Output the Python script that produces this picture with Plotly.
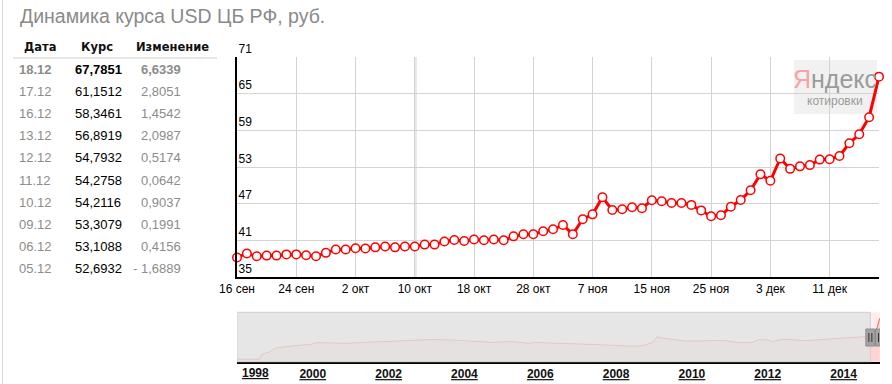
import plotly.graph_objects as go

# ---------------- data ----------------
dates = ["16.09","17.09","18.09","19.09","20.09","23.09","24.09","25.09","26.09","27.09","30.09",
         "01.10","02.10","03.10","04.10","07.10","08.10","09.10","10.10","11.10","14.10","15.10",
         "16.10","17.10","18.10","21.10","22.10","23.10","24.10","25.10","28.10","29.10","30.10","31.10",
         "01.11","06.11","07.11","08.11","11.11","12.11","13.11","14.11","15.11","18.11","19.11","20.11",
         "21.11","22.11","25.11","26.11","27.11","28.11","29.11",
         "02.12","03.12","04.12","05.12","06.12","09.12","10.12","11.12","12.12","13.12","16.12","17.12","18.12"]
rates = [38.20, 38.85, 38.40, 38.50, 38.50, 38.70, 38.70, 38.55, 38.40, 38.95, 39.50,
         39.50, 39.70, 39.65, 39.85, 40.00, 39.85, 40.00, 40.00, 40.30, 40.30, 40.80,
         41.05, 40.90, 41.15, 41.00, 41.15, 41.00, 41.65, 42.00, 42.00, 42.50, 42.80, 43.50,
         42.00, 44.45, 45.25, 48.05, 45.95, 46.10, 46.40, 46.25, 47.55, 47.40, 47.10, 47.10,
         46.80, 45.90, 44.95, 45.10, 46.50, 47.60, 49.20,
         51.80, 50.75, 54.3821, 52.6932, 53.1088, 53.3079, 54.2116, 54.2758, 54.7932, 56.8919,
         58.3461, 61.1512, 67.7851]
year = "2014"
tick_labels = ["16 сен", "24 сен", "2 окт", "10 окт", "18 окт", "28 окт",
               "7 ноя", "15 ноя", "25 ноя", "3 дек", "11 дек"]
y_ticks = [35, 41, 47, 53, 59, 65, 71]

nav_dates = ["1998-01-01","1998-08-10","1998-08-28","1998-11-15","1999-01-05","1999-04-20","1999-07-30",
             "1999-12-20","2000-02-05","2000-08-15","2000-10-25","2001-05-01","2001-12-15","2002-07-20",
             "2003-03-01","2003-10-15","2004-06-25","2004-10-01","2005-04-10","2005-07-20","2005-09-20",
             "2005-11-01","2006-04-01","2006-07-01","2007-01-10","2007-09-25","2008-03-01","2008-07-25",
             "2008-09-25","2008-12-15","2009-01-30","2009-03-25","2009-06-28","2009-11-01","2010-03-10",
             "2010-07-15","2010-11-20","2011-04-01","2011-08-01","2011-10-05","2011-12-28","2012-02-15",
             "2012-05-20","2012-08-25","2013-01-01","2013-07-08","2013-10-15","2014-01-20","2014-04-20",
             "2014-07-30","2014-09-01","2014-10-20","2014-11-20","2014-12-16"]
nav_values = [6.0, 6.2, 12.6, 16.0, 21.0, 23.0, 24.2,
              26.0, 28.1, 27.6, 27.0, 28.3, 29.4, 31.0,
              32.3, 31.3, 28.7, 28.5, 29.6, 28.3, 27.0,
              28.5, 28.1, 27.0, 26.3, 25.4, 24.1, 23.3,
              24.6, 28.0, 36.0, 34.0, 32.5, 30.3, 30.2,
              31.0, 30.7, 28.0, 28.3, 32.1, 31.6, 29.4,
              32.8, 31.6, 30.7, 32.5, 33.4, 34.7, 35.6,
              36.0, 37.4, 42.0, 48.0, 60.4]
nav_years = ["2000", "2002", "2004", "2006", "2008", "2010", "2012", "2014"]
nav_first_year = "1998"

title = "Динамика курса USD ЦБ РФ, руб."
headers = ["Дата", "Курс", "Изменение"]
n_rows = 10

# ---------------- helpers ----------------
W, H = 892, 384
def px(x):
    return x / W
def py(y):
    return 1 - y / H

iso = [f"{year}-{d[3:5]}-{d[0:2]}" for d in dates]
FONT = "Liberation Sans, Arial, sans-serif"
RED = "#ff0000"

fig = go.Figure()

# navigator area
fig.add_trace(go.Scatter(
    x=nav_dates, y=nav_values, xaxis="x2", yaxis="y2", mode="lines",
    line=dict(color="#ff5a5a", width=1), fill="tozeroy", fillcolor="rgba(255,0,0,0.11)",
    hoverinfo="skip", showlegend=False))

# main line
fig.add_trace(go.Scatter(
    x=dates, y=rates, mode="lines+markers",
    line=dict(color=RED, width=3),
    marker=dict(symbol="circle", size=8.5, color="white", line=dict(color=RED, width=1.5)),
    cliponaxis=False, showlegend=False))

shapes = []
# page left border
shapes.append(dict(type="line", xref="paper", yref="paper", x0=px(2.5), x1=px(2.5), y0=0, y1=1,
                   line=dict(color="#d9d9d9", width=1)))
# table header underline
shapes.append(dict(type="line", xref="paper", yref="paper", x0=px(13), x1=px(217), y0=py(58), y1=py(58),
                   line=dict(color="#cccccc", width=1)))
# right border of main plot
shapes.append(dict(type="line", xref="x", yref="y domain", x0=dates[-1], x1=dates[-1], y0=0, y1=1,
                   line=dict(color="#d3d3d3", width=1), layer="below"))
# yandex badge (in main plot domain coords)
shapes.append(dict(type="rect", xref="x domain", yref="y domain", x0=0.8676, x1=0.9969, y0=0.741, y1=0.9864,
                   fillcolor="rgba(236,236,236,0.75)", line=dict(width=0), layer="below"))
# navigator: selected region
shapes.append(dict(type="rect", xref="x2", yref="y2 domain", x0=iso[0], x1=iso[-1], y0=0, y1=1,
                   fillcolor="rgba(255,0,0,0.07)", line=dict(width=0), layer="below"))
# navigator: unselected overlay
shapes.append(dict(type="rect", xref="x2", yref="y2 domain", x0=nav_dates[0], x1=iso[0], y0=0, y1=1,
                   fillcolor="rgba(224,224,224,0.8)", line=dict(color="#d0d0d0", width=1), layer="above"))
# handles
for d in (iso[0], iso[-1]):
    shapes.append(dict(type="rect", xref="x2", yref="paper", xsizemode="pixel", xanchor=d,
                       x0=-4.5, x1=4.5, y0=py(346), y1=py(329),
                       fillcolor="#a3a3a3", line=dict(color="#8c8c8c", width=1), layer="above"))
    for dx in (-1.5, 1.5):
        shapes.append(dict(type="line", xref="x2", yref="paper", xsizemode="pixel", xanchor=d,
                           x0=dx, x1=dx, y0=py(342), y1=py(333),
                           line=dict(color="#333333", width=1), layer="above"))

ann = []
ann.append(dict(text=title, xref="paper", yref="paper", x=px(18), y=py(16), xanchor="left", yanchor="middle",
                showarrow=False, font=dict(family=FONT, size=19.5, color="#8a8a8a")))
# table header
hdr_x = [40, 97, 172]
for h, hx in zip(headers, hdr_x):
    ann.append(dict(text=h, xref="paper", yref="paper", x=px(hx), y=py(47), xanchor="center", yanchor="middle",
                    showarrow=False, font=dict(family="DejaVu Sans, sans-serif", size=11.5, color="#111111", weight="bold")))
# table rows (latest first)
for i in range(n_rows):
    k = len(rates) - 1 - i
    v = rates[k]
    d = v - rates[k - 1]
    rate_s = f"{v:.4f}".replace(".", ",")
    chg_s = (f"- {abs(d):.4f}" if d < 0 else f"{d:.4f}").replace(".", ",")
    yy = py(69 + i * 22.2)
    wt = "bold" if i == 0 else "normal"
    ann.append(dict(text=dates[k], xref="paper", yref="paper", x=px(17), y=yy, xanchor="left", yanchor="middle",
                    showarrow=False, font=dict(family=FONT, size=13, color="#8c8c8c", weight=wt)))
    ann.append(dict(text=rate_s, xref="paper", yref="paper", x=px(72.5), y=yy, xanchor="left", yanchor="middle",
                    showarrow=False, font=dict(family=FONT, size=13, color="#000000", weight=wt)))
    ann.append(dict(text=chg_s, xref="paper", yref="paper", x=px(182.5), y=yy, xanchor="right", yanchor="middle",
                    showarrow=False, font=dict(family=FONT, size=13, color="#8c8c8c", weight=wt)))
# yandex badge text
ann.append(dict(text="<span style='color:#f6a3a3'>Я</span>ндекс", xref="paper", yref="paper",
                x=px(835), y=py(79), xanchor="center", yanchor="middle", showarrow=False,
                font=dict(family="Liberation Sans Narrow, Liberation Sans, sans-serif", size=25, color="#9b9b9b")))
ann.append(dict(text="котировки", xref="paper", yref="paper", x=px(835), y=py(101), xanchor="center",
                yanchor="middle", showarrow=False, font=dict(family=FONT, size=12, color="#9b9b9b")))
# navigator first year label
ann.append(dict(text=nav_first_year, xref="x2", yref="paper", x=nav_dates[0], y=py(372.5), xanchor="left",
                yanchor="middle", xshift=3, showarrow=False,
                font=dict(family=FONT, size=12, color="#111111", weight="bold", lineposition="under")))

fig.update_layout(
    width=W, height=H, autosize=False,
    margin=dict(l=0, r=0, t=0, b=0, pad=0, autoexpand=False),
    paper_bgcolor="white", plot_bgcolor="white",
    showlegend=False, hovermode=False,
    shapes=shapes, annotations=ann,
    xaxis=dict(domain=[px(237), px(879)], anchor="y", type="category", automargin=False,
               categoryorder="array", categoryarray=dates, range=[0, len(dates) - 1],
               tickmode="array", tickvals=dates[::6], ticktext=tick_labels,
               showgrid=True, gridcolor="#d3d3d3", gridwidth=1,
               showline=True, linecolor="#000000", linewidth=2, ticks="",
               tickfont=dict(family=FONT, size=12, color="#000000"), zeroline=False, fixedrange=True),
    yaxis=dict(domain=[py(277), py(57)], anchor="x", range=[y_ticks[0], y_ticks[-1]], automargin=False,
               tickmode="array", tickvals=y_ticks,
               ticklabelposition="inside top", ticklabeloverflow="allow",
               showgrid=True, gridcolor="#d3d3d3", gridwidth=1,
               showline=True, linecolor="#000000", linewidth=2, ticks="",
               tickfont=dict(family=FONT, size=12, color="#000000"), zeroline=False, fixedrange=True),
    xaxis2=dict(domain=[px(237), px(880)], anchor="y2", type="date", automargin=False,
                range=[nav_dates[0], iso[-1]],
                tickmode="array", tickvals=[f"{y}-01-01" for y in nav_years], ticktext=nav_years,
                showgrid=False, showline=True, linecolor="#000000", linewidth=2, ticks="",
                tickfont=dict(family=FONT, size=12, color="#111111", weight="bold", lineposition="under"),
                zeroline=False, fixedrange=True),
    yaxis2=dict(domain=[py(361.7), py(312.3)], anchor="x2", range=[2.8, 68.4], visible=False,
                automargin=False, fixedrange=True),
)

fig.write_html("out.html", config={"displayModeBar": False, "responsive": False},
               post_script="document.body.style.margin='0';")
